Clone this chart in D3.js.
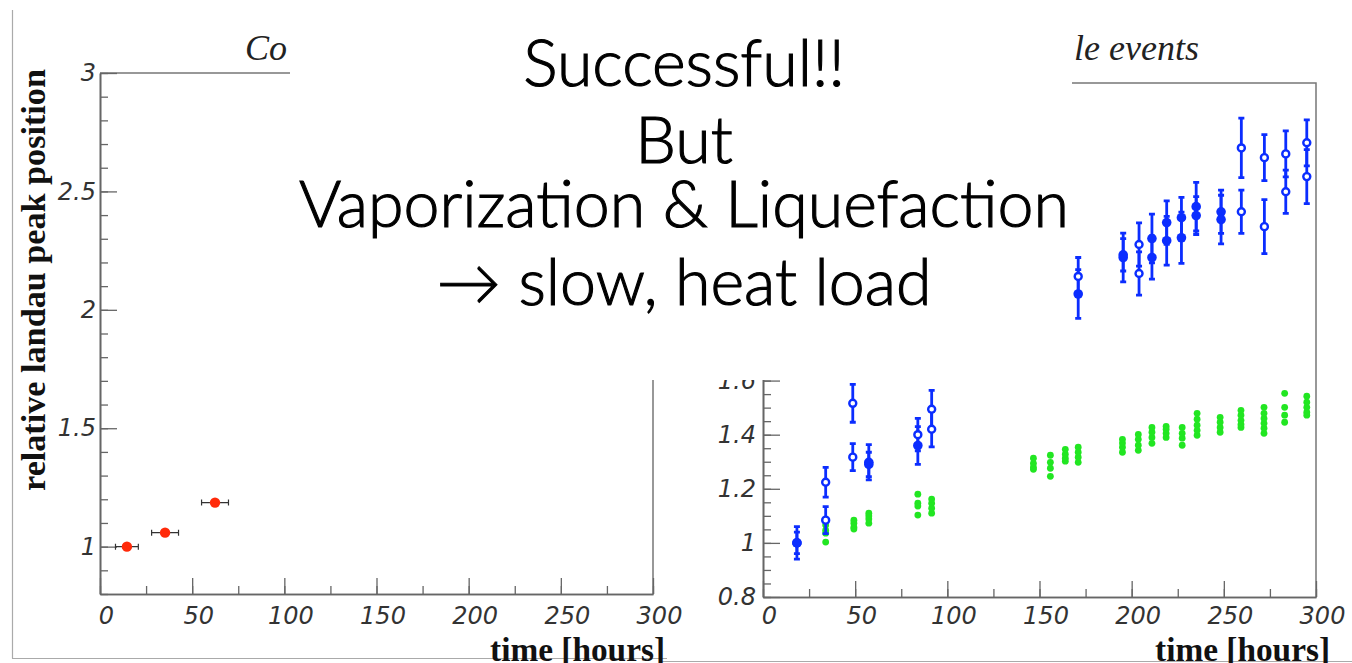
<!DOCTYPE html>
<html><head><meta charset="utf-8">
<script src="https://cdn.jsdelivr.net/npm/d3@7"></script>
<style>body{margin:0;background:#fff}svg{display:block}</style>
</head><body>
<svg id="c" width="1352" height="663"></svg>
<script>
// ---------- data ----------
const xTickValues = [0, 50, 100, 150, 200, 250, 300];
const leftYTickValues = [1, 1.5, 2, 2.5, 3];
const rightYTickValues = [0.8, 1, 1.2, 1.4, 1.6];
const xTitle = "time [hours]";
const leftYTitle = "relative landau peak position";
const leftTitle = "Co";
const rightTitle = "le events";
const overlayLines = ["Successful!!", "But", "Vaporization & Liquefaction", "\u2192 slow, heat load"];

// left panel: red points with horizontal errors
const redTime = [14.6, 35.3, 62.4];
const redValue = [1.0, 1.059, 1.186];
const redTimeErr = [6.2, 7.3, 7.3];

// right panel: green clusters
const greenTime = [34, 49.3, 57.4, 84, 91.5, 146.7, 155.9, 164, 171, 195, 203.6, 211, 218.7, 227.4, 235.5, 248, 259.3, 271.8, 283, 295];
const greenValues = [
  [1.003, 1.036, 1.047, 1.066],
  [1.051, 1.058, 1.073, 1.084],
  [1.073, 1.088, 1.099, 1.11],
  [1.103, 1.136, 1.147, 1.18],
  [1.11, 1.128, 1.147, 1.162],
  [1.272, 1.28, 1.294, 1.313],
  [1.246, 1.276, 1.298, 1.324],
  [1.302, 1.313, 1.328, 1.346],
  [1.298, 1.317, 1.335, 1.354],
  [1.335, 1.354, 1.369, 1.383],
  [1.342, 1.361, 1.383, 1.401],
  [1.368, 1.39, 1.409, 1.427],
  [1.39, 1.405, 1.42, 1.431],
  [1.361, 1.387, 1.405, 1.427],
  [1.398, 1.416, 1.435, 1.457, 1.479],
  [1.409, 1.427, 1.446, 1.464],
  [1.427, 1.438, 1.453, 1.472, 1.49],
  [1.405, 1.424, 1.442, 1.46, 1.479, 1.501],
  [1.446, 1.472, 1.501, 1.553],
  [1.472, 1.483, 1.501, 1.52, 1.542]
];

// right panel: blue filled markers
const blueFilledTime = [18.4, 18.4, 57.4, 57.4, 84, 171, 195.4, 195.4, 211, 211, 219, 219, 227, 227, 235, 235, 248.5, 248.5];
const blueFilledValue = [1.0, 1.0, 1.298, 1.29, 1.36, 1.92, 2.055, 2.065, 2.125, 2.055, 2.184, 2.117, 2.202, 2.128, 2.243, 2.21, 2.224, 2.195];
const blueFilledErr = [0.06, 0.04, 0.065, 0.045, 0.07, 0.09, 0.09, 0.06, 0.09, 0.08, 0.08, 0.09, 0.075, 0.095, 0.09, 0.07, 0.08, 0.09];

// right panel: blue open markers
const blueOpenTime = [34, 34, 48.7, 48.7, 84, 91.5, 91.5, 171, 204, 204, 259.5, 259.5, 272, 272, 283.6, 283.6, 295, 295];
const blueOpenValue = [1.224, 1.084, 1.516, 1.317, 1.40, 1.494, 1.42, 1.985, 2.103, 1.996, 2.46, 2.224, 2.424, 2.169, 2.438, 2.298, 2.479, 2.354];
const blueOpenErr = [0.055, 0.05, 0.07, 0.05, 0.06, 0.07, 0.065, 0.07, 0.08, 0.08, 0.11, 0.08, 0.085, 0.1, 0.085, 0.08, 0.085, 0.1];

// ---------- drawing ----------
const svg = d3.select("#c");
const AX = "#666", RED = "#ff2a0a", GREEN = "#22e622", BLUE = "#0b2dff";
const numFont = "'DejaVu Sans', 'Liberation Sans', sans-serif";
const serif = "'Liberation Serif', 'Times New Roman', serif";

function fitFont(sel, target) {
  const w = sel.node().getComputedTextLength();
  const fs = parseFloat(sel.attr("font-size"));
  sel.attr("font-size", fs * target / w);
}

// pad borders
svg.append("line").attr("x1", 12.5).attr("x2", 12.5).attr("y1", 10).attr("y2", 658.5).attr("stroke", "#aaa").attr("stroke-width", 1.2);
svg.append("line").attr("x1", 12).attr("x2", 667).attr("y1", 658.5).attr("y2", 658.5).attr("stroke", "#aaa").attr("stroke-width", 1.2);
svg.append("line").attr("x1", 660).attr("x2", 1352).attr("y1", 661.5).attr("y2", 661.5).attr("stroke", "#aaa").attr("stroke-width", 1.2);

function panel(o) {
  const g = svg.append("g");
  const x = d3.scaleLinear().domain([0, 300]).range([o.left, o.right]);
  const y = d3.scaleLinear().domain(o.yDomain).range([o.bottom, o.top]);

  // frame (top and right)
  g.append("path").attr("d", `M${o.left},${o.top}H${o.right}V${o.bottom}`)
    .attr("fill", "none").attr("stroke", "#777").attr("stroke-width", 1.5);

  // minor ticks
  g.append("g").attr("transform", `translate(0,${o.bottom})`)
    .call(d3.axisBottom(x).tickValues(d3.range(0, 301, 25)).tickSize(-8).tickSizeOuter(0).tickFormat(""));
  g.append("g").attr("transform", `translate(${o.left},0)`)
    .call(d3.axisLeft(y).tickValues(d3.range(Math.round(o.yDomain[0] / o.yMinor), Math.round(o.yDomain[1] / o.yMinor) + 1).map(i => i * o.yMinor)).tickSize(-8).tickSizeOuter(0).tickFormat(""));
  // major ticks + labels
  const xa = g.append("g").attr("transform", `translate(0,${o.bottom})`)
    .call(d3.axisBottom(x).tickValues(xTickValues).tickSize(-16).tickSizeOuter(0).tickPadding(o.xPad));
  g.append("g").attr("transform", `translate(${o.left},0)`)
    .call(d3.axisLeft(y).tickValues(o.yMajor).tickSize(-17).tickSizeOuter(0).tickPadding(o.yPad).tickFormat(d => o.yLabels.includes(d) ? d3.format("")(+d.toFixed(2)) : ""));
  g.selectAll(".domain").attr("stroke", AX).attr("stroke-width", 1.6);
  g.selectAll(".tick line").attr("stroke", AX).attr("stroke-width", 1.3);
  g.selectAll(".tick text").attr("font-family", numFont).attr("font-style", "italic")
    .attr("font-size", 24).attr("fill", "#333");
  xa.selectAll(".tick text").attr("dx", 6);

  // x title
  const xt = g.append("text").text(xTitle).attr("x", o.right + o.xTitleDx).attr("y", 661)
    .attr("text-anchor", "end").attr("font-family", serif).attr("font-weight", "bold").attr("font-size", 33).attr("fill", "#111");
  fitFont(xt, 175);
  // plot title
  g.append("text").text(o.title).attr("x", o.titleX).attr("y", 60)
    .attr("font-family", serif).attr("font-style", "italic").attr("font-size", 36).attr("fill", "#222");
  return {g, x, y};
}

const L = panel({left: 100, right: 653, top: 73, bottom: 594, yDomain: [0.8, 3], yMinor: 0.1,
  yMajor: [1, 1.5, 2, 2.5, 3], yLabels: leftYTickValues, xPad: 13, yPad: 4, xTitleDx: 12,
  title: leftTitle, titleX: 245});
const R = panel({left: 763, right: 1316, top: 83, bottom: 597, yDomain: [0.8, 2.7], yMinor: 0.05,
  yMajor: [0.8, 1, 1.2, 1.4, 1.6, 1.8, 2, 2.2, 2.4, 2.6], yLabels: rightYTickValues, xPad: 10, yPad: 7, xTitleDx: 14,
  title: rightTitle, titleX: 1074});

// y title left
const yt = svg.append("text").text(leftYTitle)
  .attr("transform", "translate(45,280) rotate(-90)")
  .attr("text-anchor", "middle").attr("font-family", serif).attr("font-weight", "bold")
  .attr("font-size", 34).attr("fill", "#111");
fitFont(yt, 422);

// red points
const red = d3.range(redTime.length).map(i => ({t: redTime[i], v: redValue[i], e: redTimeErr[i]}));
const rg = L.g.append("g");
rg.selectAll(".eb").data(red).join("path")
  .attr("d", d => `M${L.x(d.t - d.e)},${L.y(d.v)}H${L.x(d.t + d.e)}M${L.x(d.t - d.e)},${L.y(d.v) - 3}v6M${L.x(d.t + d.e)},${L.y(d.v) - 3}v6`)
  .attr("stroke", "#333").attr("stroke-width", 1.2).attr("fill", "none");
rg.selectAll("circle").data(red).join("circle")
  .attr("cx", d => L.x(d.t)).attr("cy", d => L.y(d.v)).attr("r", 5.2).attr("fill", RED);

// green points
const green = greenTime.flatMap((t, i) => greenValues[i].map(v => ({t, v})));
R.g.append("g").selectAll("circle").data(green).join("circle")
  .attr("cx", d => R.x(d.t)).attr("cy", d => R.y(d.v)).attr("r", 3.4).attr("fill", GREEN);

// blue points
const filled = d3.range(blueFilledTime.length).map(i => ({t: blueFilledTime[i], v: blueFilledValue[i], e: blueFilledErr[i]}));
const open = d3.range(blueOpenTime.length).map(i => ({t: blueOpenTime[i], v: blueOpenValue[i], e: blueOpenErr[i]}));
const bg = R.g.append("g");
const ebPath = d => { const cx = R.x(d.t), y1 = R.y(d.v + d.e), y2 = R.y(d.v - d.e);
  return `M${cx},${y1}V${y2}M${cx - 3},${y1}h6M${cx - 3},${y2}h6`; };
bg.selectAll(".ebf").data(filled.concat(open)).join("path").attr("d", ebPath)
  .attr("stroke", BLUE).attr("stroke-width", 2.8).attr("fill", "none");
bg.selectAll(".pf").data(filled).join("circle")
  .attr("cx", d => R.x(d.t)).attr("cy", d => R.y(d.v)).attr("r", 4.8).attr("fill", BLUE);
bg.selectAll(".po").data(open).join("circle")
  .attr("cx", d => R.x(d.t)).attr("cy", d => R.y(d.v)).attr("r", 3.5)
  .attr("fill", "#fff").attr("stroke", BLUE).attr("stroke-width", 2.4);

// white overlay box with slide text
svg.append("rect").attr("x", 290).attr("y", 0).attr("width", 782).attr("height", 380).attr("fill", "#fff");
const baselines = [86, 163, 227, 305];
const ov = svg.append("g");
const lines = ov.selectAll("text").data(overlayLines).join("text")
  .text(d => d).attr("x", 684).attr("y", (d, i) => baselines[i])
  .attr("text-anchor", "middle").attr("font-family", "Lato, 'Noto Sans', sans-serif")
  .attr("font-weight", 300).attr("font-size", 60).attr("fill", "#000")
  .attr("stroke", "#000").attr("stroke-width", 1.1);
const ref = lines.filter((d, i) => i === 2);
const w = ref.node().getComputedTextLength();
lines.attr("font-size", 60 * 770 / w);
</script>
</body></html>
